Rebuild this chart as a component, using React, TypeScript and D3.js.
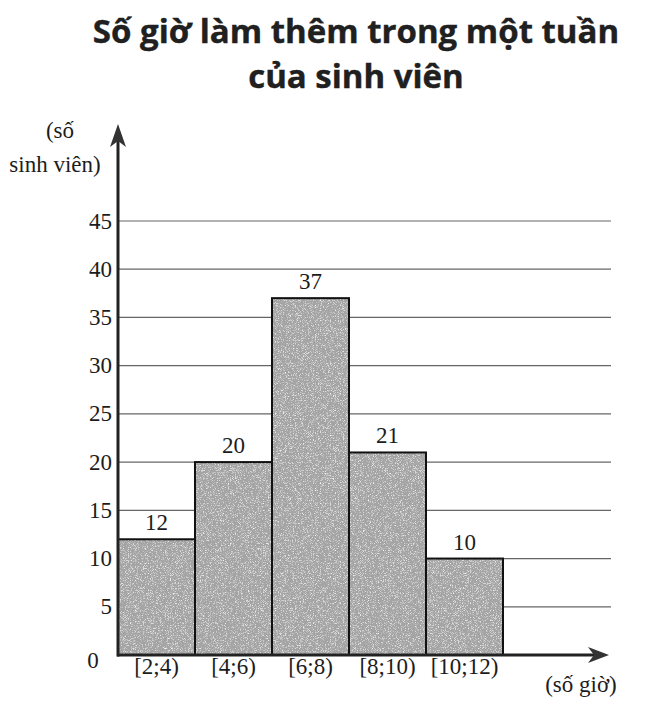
import React from "react";
import * as d3 from "d3";

const categories = ["[2;4)", "[4;6)", "[6;8)", "[8;10)", "[10;12)"];
const values = [12, 20, 37, 21, 10];
const yTicks = [5, 10, 15, 20, 25, 30, 35, 40, 45];
const titleLines = ["Số giờ làm thêm trong một tuần", "của sinh viên"];
const yLabelLines = ["(số", "sinh viên)"];
const xLabel = "(số giờ)";

const W = 666;
const H = 715;
const x0 = 118;
const yBase = 655;

export default function App() {
  const x = d3.scaleBand<string>().domain(categories).range([x0, 503]).padding(0);
  const y = d3.scaleLinear().domain([0, 45]).range([yBase, 221]);
  const serif = "'Liberation Serif', 'Times New Roman', serif";
  const ink = "#1c1c1c";
  const fs = 23;
  return (
    <svg width={W} height={H} style={{ position: "absolute", left: 0, top: 0, background: "#fff" }}>
      <defs>
        <filter id="noise" x="0" y="0" width="100%" height="100%">
          <feTurbulence type="fractalNoise" baseFrequency="1.4" numOctaves="1" seed="5" result="n" />
          <feColorMatrix in="n" type="matrix" values="0 0 0 0 1  0 0 0 0 1  0 0 0 0 1  0 0 0 -3 1.45" result="spots" />
          <feComposite in="spots" in2="SourceGraphic" operator="in" result="s2" />
          <feMerge>
            <feMergeNode in="SourceGraphic" />
            <feMergeNode in="s2" />
          </feMerge>
        </filter>
      </defs>
      {titleLines.map((t, i) => (
        <text key={t} x={356} y={43 + i * 45} textAnchor="middle" fontFamily="'Open Sans', sans-serif" fontWeight={700} fontSize={33} fill="#202020" stroke="#202020" strokeWidth={0.4}>
          {t}
        </text>
      ))}
      {yTicks.map((t) => (
        <g key={t}>
          <line x1={x0} x2={611} y1={y(t)} y2={y(t)} stroke="#666" strokeWidth={1.2} />
          <text x={112} y={y(t) + 7.5} textAnchor="end" fontFamily={serif} fontSize={fs} fill={ink}>{t}</text>
        </g>
      ))}
      <text x={93} y={668} textAnchor="middle" fontFamily={serif} fontSize={fs} fill={ink}>0</text>
      {categories.map((c, i) => (
        <g key={c}>
          <rect x={x(c)!} y={y(values[i])} width={x.bandwidth()} height={yBase - y(values[i])} fill="#a4a4a4" filter="url(#noise)" />
          <rect x={x(c)!} y={y(values[i])} width={x.bandwidth()} height={yBase - y(values[i])} fill="none" stroke="#111" strokeWidth={2} />
          <text x={x(c)! + x.bandwidth() / 2} y={y(values[i]) - 9} textAnchor="middle" fontFamily={serif} fontSize={fs} fill={ink}>{values[i]}</text>
          <text x={x(c)! + x.bandwidth() / 2} y={yBase + 19} textAnchor="middle" fontFamily={serif} fontSize={fs} fill={ink}>{c}</text>
        </g>
      ))}
      <line x1={x0 - 1} x2={596} y1={yBase} y2={yBase} stroke="#222" strokeWidth={3} />
      <path d={`M609,${yBase} L588,${yBase - 8} L594,${yBase} L588,${yBase + 8} Z`} fill="#333" />
      <line x1={x0} x2={x0} y1={yBase + 1.5} y2={138} stroke="#222" strokeWidth={3} />
      <path d={`M${x0},124 L${x0 - 8},147 L${x0},141 L${x0 + 8},147 Z`} fill="#333" />
      <text x={60} y={138} textAnchor="middle" fontFamily={serif} fontSize={fs} fill={ink}>{yLabelLines[0]}</text>
      <text x={55} y={172} textAnchor="middle" fontFamily={serif} fontSize={fs} fill={ink}>{yLabelLines[1]}</text>
      <text x={581} y={692} textAnchor="middle" fontFamily={serif} fontSize={fs} fill={ink}>{xLabel}</text>
    </svg>
  );
}
